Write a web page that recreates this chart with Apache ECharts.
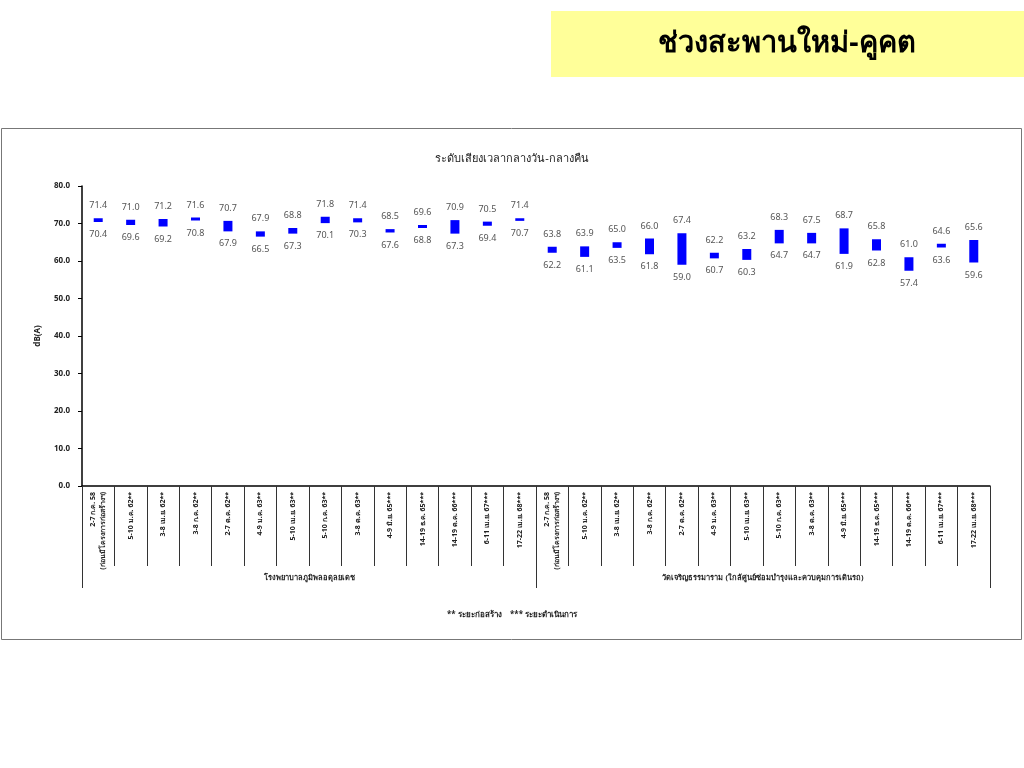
<!DOCTYPE html>
<html>
<head>
<meta charset="utf-8">
<script src="https://cdn.jsdelivr.net/npm/echarts@6/dist/echarts.min.js"></script>
<style>
html,body{margin:0;padding:0;background:#fff;}
#c{width:1024px;height:768px;}
</style>
</head>
<body>
<div id="c"></div>
<script>
var dates = [
  "2-7 ก.ค. 58\n(ก่อนมีโครงการก่อสร้างฯ)",
  "5-10 ม.ค. 62**", "3-8 เม.ย. 62**", "3-8 ก.ค. 62**", "2-7 ต.ค. 62**",
  "4-9 ม.ค. 63**", "5-10 เม.ย. 63**", "5-10 ก.ค. 63**", "3-8 ต.ค. 63**",
  "4-9 มิ.ย. 65***", "14-19 ธ.ค. 65***", "14-19 ต.ค. 66***", "6-11 เม.ย. 67***", "17-22 เม.ย. 68***"
];
var groups = ["โรงพยาบาลภูมิพลอดุลยเดช", "วัดเจริญธรรมาราม (ใกล้ศูนย์ซ่อมบำรุงและควบคุมการเดินรถ)"];
var maxG1 = [71.4, 71.0, 71.2, 71.6, 70.7, 67.9, 68.8, 71.8, 71.4, 68.5, 69.6, 70.9, 70.5, 71.4];
var minG1 = [70.4, 69.6, 69.2, 70.8, 67.9, 66.5, 67.3, 70.1, 70.3, 67.6, 68.8, 67.3, 69.4, 70.7];
var maxG2 = [63.8, 63.9, 65.0, 66.0, 67.4, 62.2, 63.2, 68.3, 67.5, 68.7, 65.8, 61.0, 64.6, 65.6];
var minG2 = [62.2, 61.1, 63.5, 61.8, 59.0, 60.7, 60.3, 64.7, 64.7, 61.9, 62.8, 57.4, 63.6, 59.6];

var categories = dates.concat(dates);
var maxAll = maxG1.concat(maxG2);
var minAll = minG1.concat(minG2);
var rangeAll = maxAll.map(function(v, i){ return +(v - minAll[i]).toFixed(1); });

var F = "'Noto Sans', 'DejaVu Sans', sans-serif";
var chart = echarts.init(document.getElementById('c'));
chart.setOption({
  animation: false,
  textStyle: {fontFamily: F},
  title: {
    text: 'ระดับเสียงเวลากลางวัน-กลางคืน',
    left: 'center', top: 148,
    textStyle: {fontSize: 11, fontWeight: 'normal', color: '#222', fontFamily: F}
  },
  graphic: [
    {type: 'rect', shape: {x: 551, y: 11, width: 473, height: 66}, style: {fill: '#FFFF99'}, z: -1},
    {type: 'text', style: {x: 787, y: 44, text: 'ช่วงสะพานใหม่-คูคต', font: 'bold 29px ' + F, fill: '#000', textAlign: 'center', textVerticalAlign: 'middle'}},
    {type: 'rect', shape: {x: 1.5, y: 128.5, width: 1020, height: 511}, style: {fill: 'none', stroke: '#777', lineWidth: 1}},
    {type: 'text', left: 'center', top: 611, style: {text: '** ระยะก่อสร้าง    *** ระยะดำเนินการ', font: 'bold 8px ' + F, fill: '#222'}}
  ],
  grid: {left: 82, right: 34, top: 186, bottom: 282, containLabel: false},
  xAxis: [
    {
      type: 'category', data: categories, position: 'bottom',
      axisLine: {show: true, lineStyle: {color: '#000', width: 1.5}},
      axisTick: {show: true, interval: 0, length: 80, lineStyle: {color: '#333'}},
      axisLabel: {interval: 0, rotate: 90, fontSize: 7, fontWeight: 'bold', color: '#222', margin: 6, lineHeight: 10}
    },
    {
      type: 'category', data: groups, position: 'bottom', offset: 80,
      axisLine: {show: false},
      axisTick: {show: true, interval: 0, length: 22, lineStyle: {color: '#333'}},
      axisLabel: {interval: 0, fontSize: 7.5, fontWeight: 'bold', color: '#222', margin: 8}
    }
  ],
  yAxis: {
    type: 'value', min: 0, max: 80, interval: 10,
    name: 'dB(A)', nameLocation: 'middle', nameGap: 40, nameRotate: 90,
    nameTextStyle: {fontSize: 8, fontWeight: 'bold', color: '#222'},
    axisLine: {show: true, lineStyle: {color: '#000', width: 1.5}},
    axisTick: {show: true, length: 4, lineStyle: {color: '#000'}},
    splitLine: {show: false},
    axisLabel: {fontSize: 8, fontWeight: 'bold', color: '#222', margin: 12, formatter: function(v){ return v.toFixed(1); }}
  },
  series: [
    {
      type: 'bar', stack: 's', data: minAll, barWidth: 9,
      itemStyle: {color: 'rgba(0,0,0,0)'},
      label: {show: true, position: 'insideTop', distance: 8, fontSize: 9, color: '#555',
        formatter: function(p){ return minAll[p.dataIndex].toFixed(1); }},
      silent: true
    },
    {
      type: 'bar', stack: 's', data: rangeAll, barWidth: 9,
      itemStyle: {color: '#0000FF'},
      label: {show: true, position: 'top', distance: 8, fontSize: 9, color: '#555',
        formatter: function(p){ return maxAll[p.dataIndex].toFixed(1); }}
    }
  ]
});
</script>
</body>
</html>
